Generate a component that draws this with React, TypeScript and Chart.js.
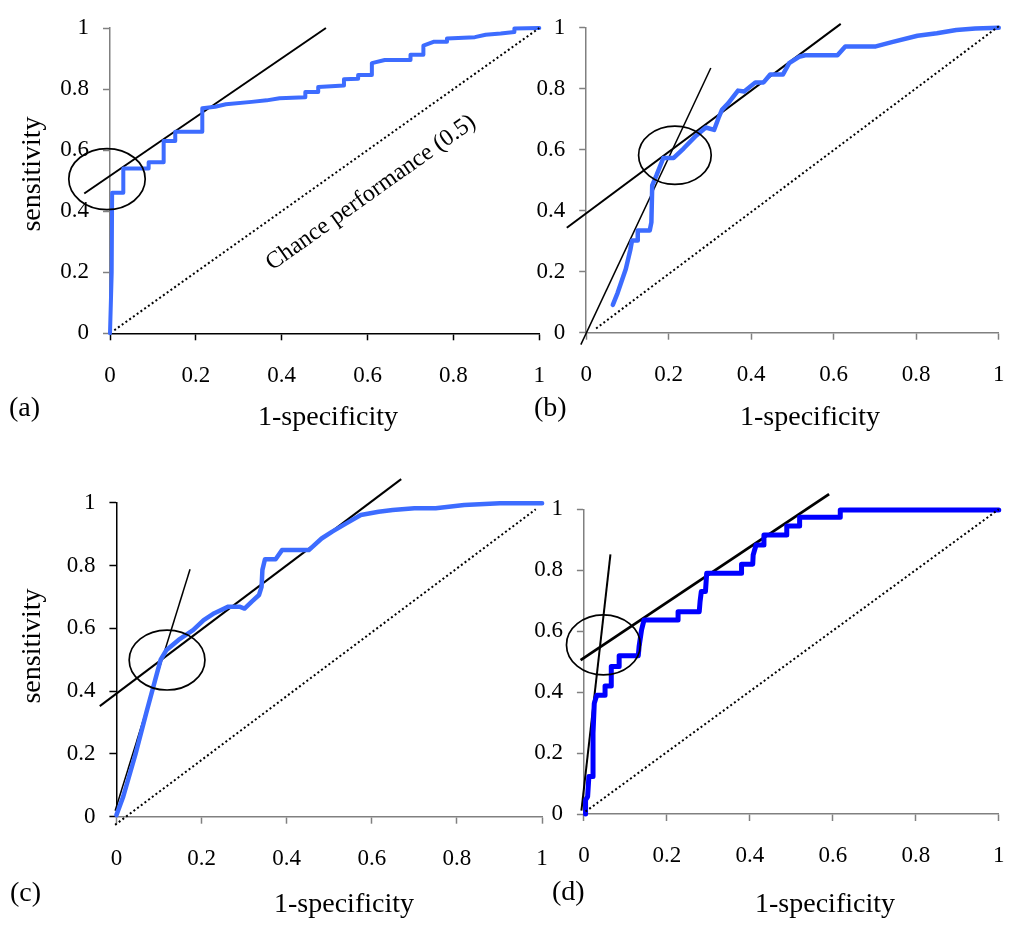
import React, { useEffect, useRef } from "react";
import { Chart, registerables } from "chart.js";

Chart.register(...registerables);

const PAGE_W = 1026;
const PAGE_H = 925;
const SERIF = "'Liberation Serif', 'Times New Roman', Times, serif";

// ---------- text ----------
const xTickLabels = ["0", "0.2", "0.4", "0.6", "0.8", "1"];
const yTickLabels = ["0", "0.2", "0.4", "0.6", "0.8", "1"];
const panelLetters = ["(a)", "(b)", "(c)", "(d)"];
const xTitle = "1-specificity";
const yTitle = "sensitivity";
const chanceLabel = "Chance performance (0.5)";
const chanceLabelX = 0.608;
const chanceLabelY = 0.46;

// ---------- panel (a) ----------
const rocAX = [0, 0.004, 0.005, 0.031, 0.031, 0.09, 0.09, 0.125, 0.125, 0.152, 0.152, 0.215, 0.215, 0.245, 0.27, 0.33, 0.365, 0.395, 0.455, 0.455, 0.485, 0.485, 0.545, 0.545, 0.578, 0.578, 0.61, 0.61, 0.64, 0.7, 0.7, 0.73, 0.73, 0.755, 0.785, 0.785, 0.85, 0.875, 0.91, 0.942, 0.942, 1];
const rocAY = [0, 0.2, 0.46, 0.46, 0.54, 0.54, 0.56, 0.56, 0.63, 0.63, 0.66, 0.66, 0.737, 0.742, 0.75, 0.758, 0.763, 0.77, 0.773, 0.79, 0.79, 0.807, 0.812, 0.832, 0.834, 0.846, 0.846, 0.885, 0.895, 0.895, 0.912, 0.912, 0.942, 0.955, 0.955, 0.966, 0.97, 0.978, 0.982, 0.987, 0.998, 1];
const diagAX = [0.01, 1];
const diagAY = [0.01, 1];
const tangentAX = [-0.06, 0.503];
const tangentAY = [0.458, 1.0];
const ellipseA = [-0.007, 0.505, 0.089, 0.1];

// ---------- panel (b) ----------
const rocBX = [0.0645, 0.076, 0.096, 0.107, 0.111, 0.125, 0.125, 0.154, 0.158, 0.16, 0.17, 0.179, 0.187, 0.212, 0.236, 0.267, 0.29, 0.31, 0.321, 0.329, 0.344, 0.368, 0.383, 0.41, 0.43, 0.446, 0.477, 0.492, 0.516, 0.531, 0.609, 0.628, 0.702, 0.741, 0.803, 0.85, 0.897, 0.943, 1.0];
const rocBY = [0.091, 0.13, 0.209, 0.272, 0.302, 0.302, 0.335, 0.335, 0.362, 0.483, 0.515, 0.546, 0.573, 0.573, 0.604, 0.647, 0.673, 0.665, 0.705, 0.731, 0.752, 0.794, 0.791, 0.821, 0.821, 0.847, 0.847, 0.884, 0.905, 0.91, 0.91, 0.939, 0.939, 0.953, 0.974, 0.982, 0.993, 0.998, 1.0];
const diagBX = [0.024, 1];
const diagBY = [0.014, 1.005];
const tangentB1X = [-0.047, 0.617];
const tangentB1Y = [0.344, 1.013];
const tangentB2X = [-0.013, 0.302];
const tangentB2Y = [-0.039, 0.868];
const ellipseB = [0.215, 0.582, 0.088, 0.0955];

// ---------- panel (c) ----------
const rocCX = [0, 0.016, 0.045, 0.07, 0.091, 0.104, 0.117, 0.146, 0.18, 0.205, 0.23, 0.263, 0.289, 0.301, 0.318, 0.335, 0.341, 0.343, 0.349, 0.374, 0.389, 0.452, 0.482, 0.507, 0.54, 0.574, 0.616, 0.649, 0.7, 0.75, 0.817, 0.901, 1.0];
const rocCY = [0.005, 0.064, 0.2, 0.33, 0.435, 0.5, 0.53, 0.563, 0.594, 0.626, 0.648, 0.669, 0.669, 0.663, 0.685, 0.706, 0.732, 0.786, 0.82, 0.82, 0.849, 0.849, 0.886, 0.908, 0.934, 0.961, 0.971, 0.977, 0.982, 0.982, 0.993, 0.998, 0.998];
const diagCX = [-0.003, 0.985];
const diagCY = [-0.026, 0.979];
const tangentC1X = [-0.039, 0.669];
const tangentC1Y = [0.352, 1.075];
const tangentC2X = [-0.003, 0.173];
const tangentC2Y = [0.019, 0.788];
const ellipseC = [0.119, 0.499, 0.089, 0.0955];

// ---------- panel (d) ----------
const rocDX = [0.004, 0.004, 0.009, 0.012, 0.022, 0.022, 0.022, 0.025, 0.031, 0.051, 0.051, 0.066, 0.066, 0.085, 0.085, 0.131, 0.133, 0.139, 0.145, 0.227, 0.227, 0.278, 0.28, 0.283, 0.293, 0.296, 0.38, 0.38, 0.407, 0.408, 0.415, 0.434, 0.434, 0.489, 0.489, 0.52, 0.52, 0.618, 0.618, 1.0];
const rocDY = [0, 0.046, 0.057, 0.123, 0.123, 0.155, 0.265, 0.363, 0.39, 0.39, 0.42, 0.42, 0.484, 0.484, 0.519, 0.519, 0.549, 0.604, 0.637, 0.637, 0.664, 0.664, 0.697, 0.73, 0.73, 0.79, 0.79, 0.82, 0.82, 0.85, 0.883, 0.883, 0.916, 0.916, 0.945, 0.945, 0.974, 0.974, 0.998, 0.998];
const diagDX = [0.004, 1];
const diagDY = [0.008, 1];
const tangentD1X = [-0.008, 0.591];
const tangentD1Y = [0.505, 1.05];
const tangentD2X = [-0.006, 0.064];
const tangentD2Y = [0.011, 0.852];
const ellipseD = [0.047, 0.555, 0.089, 0.0985];

type Area = { left: number; top: number; right: number; bottom: number };
type Tangent = { x: number[]; y: number[]; width: number };
type Panel = {
  letter: string;
  area: Area;
  curveX: number[];
  curveY: number[];
  curveColor: string;
  curveWidth: number;
  diagX: number[];
  diagY: number[];
  tangents: Tangent[];
  ellipse: number[];
  xAxisColor: string;
  yAxisColor: string;
  letterPos: [number, number];
  xTitlePos: [number, number];
  yTitlePos?: [number, number];
  chance?: boolean;
};

const GREY = "#808080";
const LIGHT_BLUE = "#3d6cff";
const DEEP_BLUE = "#0000ff";

const PANELS: Panel[] = [
  {
    letter: panelLetters[0],
    area: { left: 110, top: 28, right: 539.3, bottom: 333.3 },
    curveX: rocAX, curveY: rocAY, curveColor: LIGHT_BLUE, curveWidth: 4,
    diagX: diagAX, diagY: diagAY,
    tangents: [{ x: tangentAX, y: tangentAY, width: 2 }],
    ellipse: ellipseA,
    xAxisColor: "#000", yAxisColor: GREY,
    letterPos: [9, 409], xTitlePos: [328, 418], yTitlePos: [33, 174],
    chance: true,
  },
  {
    letter: panelLetters[1],
    area: { left: 586.2, top: 16.7, right: 1017.6, bottom: 332.7 },
    curveX: rocBX, curveY: rocBY, curveColor: LIGHT_BLUE, curveWidth: 4.5,
    diagX: diagBX, diagY: diagBY,
    tangents: [
      { x: tangentB1X, y: tangentB1Y, width: 2 },
      { x: tangentB2X, y: tangentB2Y, width: 1.5 },
    ],
    ellipse: ellipseB,
    xAxisColor: GREY, yAxisColor: GREY,
    letterPos: [534, 409], xTitlePos: [810, 418],
  },
  {
    letter: panelLetters[2],
    area: { left: 116.4, top: 502.7, right: 542.1, bottom: 816.7 },
    curveX: rocCX, curveY: rocCY, curveColor: LIGHT_BLUE, curveWidth: 4.5,
    diagX: diagCX, diagY: diagCY,
    tangents: [
      { x: tangentC1X, y: tangentC1Y, width: 2 },
      { x: tangentC2X, y: tangentC2Y, width: 1.5 },
    ],
    ellipse: ellipseC,
    xAxisColor: GREY, yAxisColor: "#000",
    letterPos: [10, 894], xTitlePos: [344, 905], yTitlePos: [33, 646],
  },
  {
    letter: panelLetters[3],
    area: { left: 583.9, top: 509.3, right: 1012.6, bottom: 814 },
    curveX: rocDX, curveY: rocDY, curveColor: DEEP_BLUE, curveWidth: 5,
    diagX: diagDX, diagY: diagDY,
    tangents: [
      { x: tangentD1X, y: tangentD1Y, width: 2.8 },
      { x: tangentD2X, y: tangentD2Y, width: 2 },
    ],
    ellipse: ellipseD,
    xAxisColor: GREY, yAxisColor: GREY,
    letterPos: [552, 893], xTitlePos: [825, 905],
  },
];

const pts = (xs: number[], ys: number[]) => xs.map((x, i) => ({ x, y: ys[i] }));

function makeOverlay(p: Panel) {
  return {
    id: "overlay" + p.letter.replace(/[()]/g, ""),
    afterDatasetsDraw(chart: any) {
      const { ctx } = chart;
      const xs = chart.scales.x;
      const ys = chart.scales.y;
      const [cx, cy, rx, ry] = p.ellipse;
      const px = xs.getPixelForValue(cx);
      const py = ys.getPixelForValue(cy);
      const prx = Math.abs(xs.getPixelForValue(cx + rx) - px);
      const pry = Math.abs(ys.getPixelForValue(cy + ry) - py);
      ctx.save();
      ctx.beginPath();
      ctx.ellipse(px, py, prx, pry, 0, 0, Math.PI * 2);
      ctx.lineWidth = 1.7;
      ctx.strokeStyle = "#000";
      ctx.stroke();
      if (p.chance) {
        const ang = Math.atan2(
          ys.getPixelForValue(1) - ys.getPixelForValue(0),
          xs.getPixelForValue(1) - xs.getPixelForValue(0)
        );
        ctx.translate(xs.getPixelForValue(chanceLabelX), ys.getPixelForValue(chanceLabelY));
        ctx.rotate(ang);
        ctx.font = `24px ${SERIF}`;
        ctx.fillStyle = "#000";
        ctx.textAlign = "center";
        ctx.textBaseline = "middle";
        ctx.fillText(chanceLabel, 0, 0);
      }
      ctx.restore();
    },
    afterDraw(chart: any) {
      const { ctx } = chart;
      ctx.save();
      ctx.fillStyle = "#000";
      ctx.font = `28px ${SERIF}`;
      ctx.textBaseline = "middle";
      ctx.textAlign = "left";
      ctx.fillText(p.letter, p.letterPos[0], p.letterPos[1]);
      ctx.textAlign = "center";
      ctx.fillText(xTitle, p.xTitlePos[0], p.xTitlePos[1]);
      if (p.yTitlePos) {
        ctx.translate(p.yTitlePos[0], p.yTitlePos[1]);
        ctx.rotate(-Math.PI / 2);
        ctx.fillText(yTitle, 0, 0);
      }
      ctx.restore();
    },
  };
}

function PanelChart({ panel }: { panel: Panel }) {
  const ref = useRef<HTMLCanvasElement | null>(null);
  useEffect(() => {
    if (!ref.current) return;
    const a = panel.area;
    const tickFont = { family: SERIF, size: 23 };
    const chart = new Chart(ref.current, {
      type: "line",
      data: {
        datasets: [
          {
            data: pts(panel.diagX, panel.diagY),
            borderColor: "#000",
            borderWidth: 2,
            borderDash: [2, 2.6],
            pointRadius: 0,
            fill: false,
            tension: 0,
            clip: false,
          } as any,
          {
            data: pts(panel.curveX, panel.curveY),
            borderColor: panel.curveColor,
            borderWidth: panel.curveWidth,
            pointRadius: 0,
            fill: false,
            tension: 0,
            borderCapStyle: "round",
            borderJoinStyle: "round",
            clip: false,
          },
          ...panel.tangents.map((t) => ({
            data: pts(t.x, t.y),
            borderColor: "#000",
            borderWidth: t.width,
            pointRadius: 0,
            fill: false,
            tension: 0,
            clip: false,
          })),
        ],
      },
      options: {
        responsive: false,
        animation: false,
        devicePixelRatio: 1,
        events: [],
        layout: {
          padding: { left: 0, top: a.top, right: PAGE_W - a.right, bottom: 0 },
        },
        plugins: {
          legend: { display: false },
          tooltip: { enabled: false },
          title: { display: false },
        },
        scales: {
          x: {
            type: "linear",
            position: "bottom",
            min: 0,
            max: 1,
            ticks: {
              stepSize: 0.2,
              autoSkip: false,
              maxRotation: 0,
              padding: 21.5,
              color: "#000",
              font: tickFont,
              callback: (_v: any, i: number) => xTickLabels[i],
            },
            grid: {
              drawOnChartArea: false,
              drawTicks: true,
              tickLength: 7,
              tickColor: panel.xAxisColor,
              tickWidth: 1.5,
            },
            border: { display: true, color: panel.xAxisColor, width: 1.5 },
            afterFit: (s: any) => {
              s.height = PAGE_H - a.bottom;
            },
          },
          y: {
            type: "linear",
            position: "left",
            min: 0,
            max: 1,
            ticks: {
              stepSize: 0.2,
              autoSkip: false,
              padding: 14,
              color: "#000",
              font: tickFont,
              callback: (_v: any, i: number) => yTickLabels[i],
            },
            grid: {
              drawOnChartArea: false,
              drawTicks: true,
              tickLength: 7,
              tickColor: panel.yAxisColor,
              tickWidth: 1.5,
            },
            border: { display: true, color: panel.yAxisColor, width: 1.5 },
            afterFit: (s: any) => {
              s.width = a.left;
            },
          },
        },
      } as any,
      plugins: [makeOverlay(panel)],
    });
    return () => chart.destroy();
  }, [panel]);
  return (
    <canvas
      ref={ref}
      width={PAGE_W}
      height={PAGE_H}
      style={{ position: "absolute", left: 0, top: 0, width: PAGE_W, height: PAGE_H, display: "block" }}
    />
  );
}

export default function App() {
  return (
    <div
      style={{
        position: "absolute",
        left: 0,
        top: 0,
        width: PAGE_W,
        height: PAGE_H,
        background: "#fff",
        overflow: "hidden",
      }}
    >
      {PANELS.map((p) => (
        <PanelChart key={p.letter} panel={p} />
      ))}
    </div>
  );
}
